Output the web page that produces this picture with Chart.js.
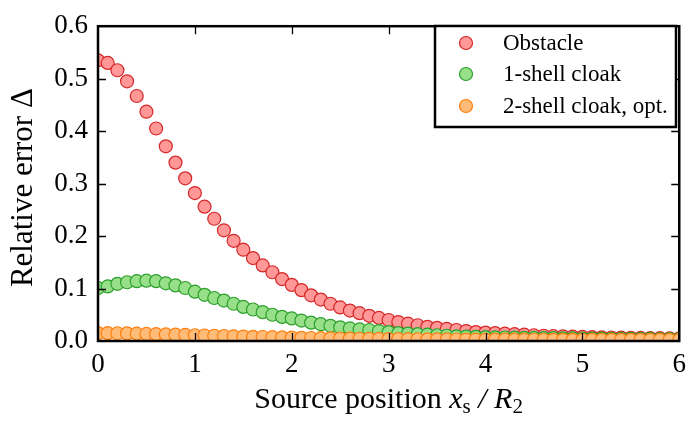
<!DOCTYPE html>
<html>
<head>
<meta charset="utf-8">
<script src="https://cdn.jsdelivr.net/npm/chart.js@4.4.1/dist/chart.umd.min.js"></script>
<style>
  html, body { margin: 0; padding: 0; background: #fff; }
  #wrap { width: 694px; height: 424px; }
</style>
</head>
<body>
<div id="wrap"><canvas id="errChart" width="694" height="424"></canvas></div>
<script>
// source positions x_s / R_2
const positions = [
  0.0, 0.1, 0.2, 0.3, 0.4, 0.5, 0.6, 0.7, 0.8, 0.9,
  1.0, 1.1, 1.2, 1.3, 1.4, 1.5, 1.6, 1.7, 1.8, 1.9,
  2.0, 2.1, 2.2, 2.3, 2.4, 2.5, 2.6, 2.7, 2.8, 2.9,
  3.0, 3.1, 3.2, 3.3, 3.4, 3.5, 3.6, 3.7, 3.8, 3.9,
  4.0, 4.1, 4.2, 4.3, 4.4, 4.5, 4.6, 4.7, 4.8, 4.9,
  5.0, 5.1, 5.2, 5.3, 5.4, 5.5, 5.6, 5.7, 5.8, 5.9, 6.0
];

const obstacle = [
  0.535, 0.530, 0.516, 0.495, 0.467, 0.437, 0.405, 0.371, 0.340, 0.310,
  0.282, 0.256, 0.233, 0.211, 0.191, 0.174, 0.158, 0.144, 0.131, 0.118,
  0.107, 0.097, 0.087, 0.079, 0.071, 0.064, 0.058, 0.053, 0.048, 0.044,
  0.040, 0.036, 0.033, 0.030, 0.027, 0.025, 0.023, 0.021, 0.019, 0.017,
  0.016, 0.015, 0.014, 0.013, 0.012, 0.011, 0.010, 0.0095, 0.009, 0.0085,
  0.008, 0.0075, 0.007, 0.0067, 0.0064, 0.0061, 0.0058, 0.0055, 0.0053, 0.0051, 0.0049
];

const cloak1 = [
  0.101, 0.104, 0.109, 0.112, 0.114, 0.115, 0.114, 0.110, 0.106, 0.101,
  0.094, 0.088, 0.082, 0.077, 0.071, 0.065, 0.060, 0.055, 0.050, 0.046,
  0.043, 0.039, 0.035, 0.032, 0.029, 0.026, 0.024, 0.022, 0.021, 0.019,
  0.017, 0.015, 0.014, 0.013, 0.012, 0.011, 0.010, 0.009, 0.0085, 0.008,
  0.0075, 0.007, 0.0067, 0.0064, 0.0061, 0.0058, 0.0055, 0.0053, 0.0051, 0.0049,
  0.0047, 0.0045, 0.0044, 0.0043, 0.0042, 0.0041, 0.004, 0.0039, 0.0038, 0.0037, 0.0036
];

const cloak2 = [
  0.015, 0.015, 0.0148, 0.0145, 0.014, 0.0135, 0.013, 0.0125, 0.012, 0.0115,
  0.011, 0.0105, 0.010, 0.0095, 0.009, 0.0085, 0.008, 0.0076, 0.0072, 0.0068,
  0.0064, 0.006, 0.0057, 0.0054, 0.0051, 0.0048, 0.0045, 0.0043, 0.0041, 0.0039,
  0.0037, 0.0035, 0.0034, 0.0033, 0.0032, 0.0031, 0.003, 0.0029, 0.0028, 0.0028,
  0.0027, 0.0026, 0.0026, 0.0025, 0.0025, 0.0024, 0.0024, 0.0023, 0.0023, 0.0022,
  0.0022, 0.0022, 0.0021, 0.0021, 0.0021, 0.002, 0.002, 0.002, 0.002, 0.002, 0.002
];

const xTicks = [0, 1, 2, 3, 4, 5, 6];
const yTicks = [0.0, 0.1, 0.2, 0.3, 0.4, 0.5, 0.6];

const seriesNames = ["Obstacle", "1-shell cloak", "2-shell cloak, opt."];
const fills = ["#ff9896", "#98df8a", "#ffbb78"];
const edges = ["#d62728", "#2ca02c", "#ff7f0e"];

const SERIF = "'Liberation Serif', 'DejaVu Serif', serif";

function pts(ys) {
  return positions.map((x, i) => ({ x: x, y: ys[i] }));
}

// frame, inward ticks on all sides, axis titles and the legend box
const framePlugin = {
  id: 'frame',
  afterDraw(chart) {
    const { ctx, chartArea: a, scales } = chart;
    const xs = scales.x, ys = scales.y;
    ctx.save();
    ctx.strokeStyle = '#000';
    ctx.lineWidth = 1.3;
    ctx.beginPath();
    xTicks.slice(1, -1).forEach(v => {
      const px = Math.round(xs.getPixelForValue(v)) + 0.5;
      ctx.moveTo(px, a.bottom); ctx.lineTo(px, a.bottom - 8);
      ctx.moveTo(px, a.top); ctx.lineTo(px, a.top + 8);
    });
    yTicks.slice(1, -1).forEach(v => {
      const py = Math.round(ys.getPixelForValue(v)) + 0.5;
      ctx.moveTo(a.left, py); ctx.lineTo(a.left + 8, py);
      ctx.moveTo(a.right, py); ctx.lineTo(a.right - 8, py);
    });
    ctx.stroke();

    ctx.lineWidth = 2.5;
    ctx.strokeRect(a.left, a.top, a.right - a.left, a.bottom - a.top);

    // x title: Source position x_s / R_2
    ctx.fillStyle = '#000';
    ctx.textBaseline = 'alphabetic';
    ctx.textAlign = 'left';
    const parts = [
      { t: 'Source position ', f: '30px ' + SERIF, dy: 0 },
      { t: 'x', f: 'italic 30px ' + SERIF, dy: 0 },
      { t: 's', f: '21px ' + SERIF, dy: 5 },
      { t: ' / ', f: 'italic 30px ' + SERIF, dy: 0 },
      { t: 'R', f: 'italic 30px ' + SERIF, dy: 0 },
      { t: '2', f: '21px ' + SERIF, dy: 5 }
    ];
    let total = 0;
    parts.forEach(p => { ctx.font = p.f; p.w = ctx.measureText(p.t).width; total += p.w; });
    let cx = (a.left + a.right) / 2 - total / 2;
    parts.forEach(p => {
      ctx.font = p.f;
      ctx.fillText(p.t, cx, 408 + p.dy);
      cx += p.w;
    });

    // y title
    ctx.save();
    ctx.translate(32, (a.top + a.bottom) / 2 + 4);
    ctx.rotate(-Math.PI / 2);
    ctx.textAlign = 'center';
    ctx.font = '31px ' + SERIF;
    ctx.fillText('Relative error \u0394', 0, 0);
    ctx.restore();

    // legend
    const lx = 435, ly = 26, lw = 241, lh = 101;
    ctx.fillStyle = '#fff';
    ctx.fillRect(lx, ly, lw, lh);
    ctx.lineWidth = 2.5;
    ctx.strokeStyle = '#000';
    ctx.strokeRect(lx, ly, lw, lh);
    const rows = [43, 74, 106];
    seriesNames.forEach((name, i) => {
      ctx.beginPath();
      ctx.arc(466, rows[i], 6.5, 0, Math.PI * 2);
      ctx.fillStyle = fills[i];
      ctx.fill();
      ctx.lineWidth = 1.2;
      ctx.strokeStyle = edges[i];
      ctx.stroke();
      ctx.fillStyle = '#000';
      ctx.font = '23px ' + SERIF;
      ctx.textAlign = 'left';
      ctx.textBaseline = 'middle';
      ctx.fillText(name, 503, rows[i] + 1);
    });
    ctx.restore();
  }
};

const datasets = [obstacle, cloak1, cloak2].map((ys, i) => ({
  label: seriesNames[i],
  data: pts(ys),
  backgroundColor: fills[i],
  borderColor: edges[i],
  borderWidth: 1.2,
  pointRadius: 6.5,
  pointHoverRadius: 6.5,
  showLine: false,
  clip: 0,
  order: 3 - i
}));

new Chart(document.getElementById('errChart'), {
  type: 'scatter',
  data: { datasets: datasets },
  options: {
    responsive: false,
    animation: false,
    events: [],
    layout: { padding: { top: 15, right: 8, left: 0, bottom: 0 } },
    scales: {
      x: {
        type: 'linear', min: 0, max: 6,
        afterFit(s) { s.height = 83; },
        afterBuildTicks(s) { s.ticks = xTicks.map(v => ({ value: v })); },
        grid: { display: false, drawTicks: false },
        border: { display: false },
        ticks: {
          color: '#000', padding: 8,
          font: { family: SERIF, size: 27 },
          callback: v => String(v)
        }
      },
      y: {
        type: 'linear', min: 0, max: 0.6,
        afterFit(s) { s.width = 98; },
        afterBuildTicks(s) { s.ticks = yTicks.map(v => ({ value: v })); },
        grid: { display: false, drawTicks: false },
        border: { display: false },
        ticks: {
          color: '#000', padding: 10,
          font: { family: SERIF, size: 27 },
          callback: v => v.toFixed(1)
        }
      }
    },
    plugins: {
      legend: { display: false },
      tooltip: { enabled: false }
    }
  },
  plugins: [framePlugin]
});
</script>
</body>
</html>
